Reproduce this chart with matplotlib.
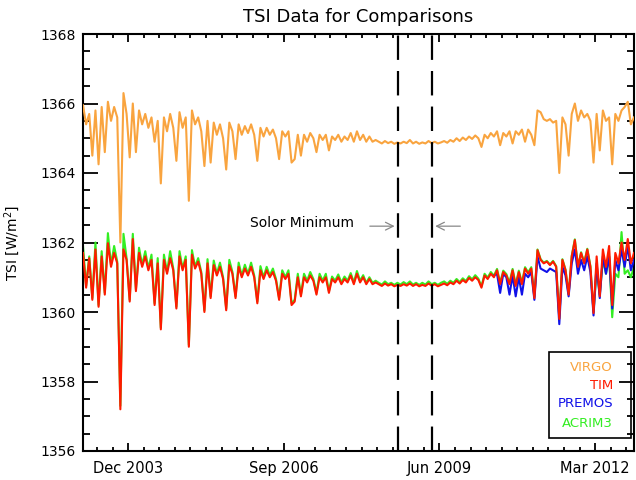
import numpy as np
import matplotlib
matplotlib.use("Agg")
import matplotlib.pyplot as plt
from matplotlib.patches import Rectangle
from matplotlib.ticker import MultipleLocator, FixedLocator

# ---- data (days relative to JD 2453000, sampled every 20 days) ----
days = np.arange(-290, 3251, 20)

virgo = [
 1365.95,1365.4,1365.7,1364.5,1365.8,1364.25,1365.9,1364.6,1366.05,1365.5,
 1365.9,1365.6,1362.0,1366.3,1365.7,1364.45,1366.0,1364.6,1365.8,1365.4,
 1365.7,1365.3,1365.6,1364.9,1365.5,1363.7,1365.6,1365.2,1365.7,1365.3,
 1364.35,1365.75,1365.3,1365.6,1363.2,1365.8,1365.4,1365.6,1365.2,1364.2,
 1365.5,1364.3,1365.45,1365.1,1365.4,1365.0,1364.1,1365.45,1365.2,1364.4,
 1365.4,1365.1,1365.35,1365.15,1365.4,1365.1,1364.35,1365.3,1365.05,1365.3,
 1365.1,1365.25,1365.0,1364.4,1365.2,1365.05,1365.2,1364.3,1364.4,1365.1,
 1364.5,1365.1,1364.9,1365.15,1365.0,1364.6,1365.1,1364.95,1365.1,1364.65,
 1365.05,1364.95,1365.1,1364.9,1365.05,1364.95,1365.15,1364.9,1365.2,1364.95,
 1365.1,1364.9,1365.05,1364.9,1364.95,
 1364.9,1364.85,1364.92,1364.86,1364.9,1364.84,1364.88,1364.85,1364.9,1364.86,
 1364.95,1364.85,1364.9,1364.84,1364.88,1364.85,1364.92,1364.86,1364.9,1364.85,
 1364.88,1364.92,1364.87,
 1364.95,1364.9,1365.0,1364.92,1365.02,1364.95,1365.05,1364.98,1365.08,1365.0,
 1364.75,1365.1,1365.0,1365.15,1365.05,1365.2,1364.8,1365.15,1365.05,1365.2,
 1364.85,1365.2,1365.1,1365.25,1364.9,1365.25,1365.1,1364.8,
 1365.8,1365.75,1365.55,1365.5,1365.55,1365.45,1365.5,1364.0,1365.6,1365.4,
 1364.5,1365.7,1366.0,1365.5,1365.8,1365.6,1365.7,1365.5,1364.3,1365.7,
 1364.65,1365.8,1365.5,1365.6,1364.25,1365.7,1365.5,1365.8,1365.9,1366.05,
 1365.4,1365.6]

tim = [
 1361.7,1360.7,1361.55,1360.35,1361.8,1360.15,1361.6,1360.5,1361.98,1361.3,
 1361.7,1361.4,1357.2,1361.8,1361.5,1360.3,1362.1,1360.6,1361.7,1361.3,
 1361.6,1361.2,1361.5,1360.2,1361.4,1359.5,1361.5,1361.1,1361.55,1361.2,
 1360.1,1361.6,1361.2,1361.5,1359.0,1361.65,1361.25,1361.45,1361.1,1360.0,
 1361.4,1360.4,1361.35,1361.05,1361.3,1360.95,1360.05,1361.35,1361.1,1360.4,
 1361.3,1361.0,1361.25,1361.05,1361.3,1361.0,1360.25,1361.2,1360.95,1361.2,
 1361.0,1361.15,1360.9,1360.35,1361.1,1360.95,1361.1,1360.2,1360.3,1361.0,
 1360.45,1361.0,1360.85,1361.05,1360.9,1360.5,1361.0,1360.85,1361.0,1360.55,
 1360.95,1360.85,1361.0,1360.8,1360.95,1360.85,1361.05,1360.8,1361.1,1360.85,
 1361.0,1360.8,1360.95,1360.8,1360.85,
 1360.8,1360.75,1360.82,1360.76,1360.8,1360.74,1360.78,1360.75,1360.8,1360.76,
 1360.82,1360.75,1360.8,1360.74,1360.78,1360.75,1360.82,1360.76,1360.8,1360.74,
 1360.78,1360.82,1360.77,
 1360.85,1360.8,1360.9,1360.82,1360.92,1360.85,1360.98,1360.9,1361.0,1360.92,
 1360.7,1361.05,1360.95,1361.1,1361.0,1361.2,1360.8,1361.15,1361.05,1360.8,
 1361.2,1360.75,1361.15,1360.8,1361.25,1361.1,1361.25,1360.4,
 1361.78,1361.5,1361.4,1361.45,1361.35,1361.45,1361.3,1359.8,1361.5,1361.2,
 1360.5,1361.6,1362.07,1361.3,1361.7,1361.4,1361.8,1361.3,1359.97,1361.6,
 1360.45,1361.8,1361.3,1361.9,1360.2,1361.7,1361.4,1362.0,1361.5,1362.1,
 1361.4,1361.7]

premos_days = days[132:]
premos = [
 1361.05,1361.1,1360.55,1361.1,1361.0,1360.5,1361.05,1360.45,1361.0,1360.5,
 1361.1,1361.0,1361.15,1360.35,
 1361.6,1361.25,1361.2,1361.15,1361.25,1361.2,1361.15,1359.65,1361.3,1361.05,
 1360.45,1361.4,1361.8,1361.1,1361.5,1361.2,1361.6,1361.15,1359.9,1361.4,
 1360.4,1361.6,1361.1,1361.6,1360.1,1361.5,1361.2,1361.8,1361.3,1361.9,
 1361.2,1361.5]

acrim3 = [
 1361.9,1360.75,1361.6,1360.4,1362.0,1360.2,1361.75,1360.55,1362.27,1361.35,
 1361.9,1361.45,1357.3,1362.25,1361.55,1360.35,1362.25,1360.65,1361.85,1361.35,
 1361.75,1361.25,1361.65,1360.25,1361.55,1359.55,1361.65,1361.15,1361.75,1361.25,
 1360.15,1361.75,1361.25,1361.6,1359.05,1361.78,1361.3,1361.55,1361.15,1360.05,
 1361.52,1360.45,1361.48,1361.1,1361.42,1361.0,1360.1,1361.5,1361.15,1360.45,
 1361.42,1361.05,1361.36,1361.1,1361.42,1361.05,1360.3,1361.32,1361.0,1361.3,
 1361.05,1361.25,1360.95,1360.4,1361.2,1361.0,1361.2,1360.25,1360.35,1361.1,
 1360.5,1361.1,1360.9,1361.15,1360.95,1360.55,1361.1,1360.9,1361.1,1360.6,
 1361.02,1360.9,1361.08,1360.85,1361.02,1360.9,1361.12,1360.85,1361.18,1360.9,
 1361.06,1360.84,1361.0,1360.84,1360.9,
 1360.84,1360.79,1360.88,1360.8,1360.84,1360.78,1360.84,1360.79,1360.86,1360.8,
 1360.88,1360.79,1360.84,1360.78,1360.84,1360.79,1360.88,1360.8,1360.84,1360.78,
 1360.84,1360.88,1360.81,
 1360.9,1360.84,1360.95,1360.86,1360.97,1360.89,1361.03,1360.94,1361.06,1360.96,
 1360.74,1361.1,1360.99,1361.15,1361.04,1361.24,1360.84,1361.19,1361.09,1360.84,
 1361.24,1360.79,1361.19,1360.84,1361.29,1361.14,1361.29,1360.44,
 1361.8,1361.52,1361.42,1361.47,1361.37,1361.47,1361.32,1359.82,1361.52,1361.22,
 1360.52,1361.62,1362.09,1361.32,1361.72,1361.42,1361.82,1361.32,1360.0,1361.2,
 1360.5,1361.5,1361.1,1361.6,1359.85,1361.1,1361.0,1362.3,1361.1,1361.2,
 1361.0,1361.3]

series_names = ["VIRGO", "TIM", "PREMOS", "ACRIM3"]
series_colors = ["#F9A43F", "#FF1A00", "#1010E8", "#33EE22"]

tick_days = [0, 1000, 2000, 3000]
tick_labels = ["Dec 2003", "Sep 2006", "Jun 2009", "Mar 2012"]
min_lines = [1735, 1950]
ann_text = "Solor Minimum"

# ---- figure ----
fig = plt.figure(figsize=(6.36, 4.80), dpi=100)
ax = fig.add_axes([83/636, 29/480, 551/636, 417/480])

ax.plot(days, acrim3, color=series_colors[3], lw=1.5, zorder=2)
ax.plot(premos_days, premos, color=series_colors[2], lw=1.5, zorder=3)
ax.plot(days, tim, color=series_colors[1], lw=1.5, zorder=4)
ax.plot(days, virgo, color=series_colors[0], lw=1.5, zorder=5)

for d in min_lines:
    ax.axvline(d, color="black", lw=1.6, linestyle=(0, (11, 5)), zorder=6)

ax.text(784, 1362.56, ann_text, fontsize=10, va="center", ha="left")
ax.annotate("", xy=(min_lines[0] - 5, 1362.47), xytext=(1535, 1362.47),
            arrowprops=dict(arrowstyle="->", color="#888888", lw=0.9,
                            mutation_scale=14))
ax.annotate("", xy=(min_lines[1] + 5, 1362.47), xytext=(2152, 1362.47),
            arrowprops=dict(arrowstyle="->", color="#888888", lw=0.9,
                            mutation_scale=14))

ax.set_xlim(-290, 3250)
ax.set_ylim(1356, 1368)
ax.xaxis.set_major_locator(FixedLocator(tick_days))
ax.set_xticklabels(tick_labels)
ax.xaxis.set_minor_locator(MultipleLocator(100))
ax.yaxis.set_major_locator(MultipleLocator(2))
ax.yaxis.set_minor_locator(MultipleLocator(0.5))

ax.tick_params(axis="both", which="both", direction="in", top=True, right=True,
               width=1.3, colors="black")
ax.tick_params(axis="x", which="major", length=6, labelsize=10.5, pad=7)
ax.tick_params(axis="x", which="minor", length=3)
ax.tick_params(axis="y", which="major", length=11, labelsize=10, pad=5)
ax.tick_params(axis="y", which="minor", length=5)
for s in ax.spines.values():
    s.set_linewidth(1.5)

ax.set_title("TSI Data for Comparisons", fontsize=13, pad=9)
ax.set_ylabel("TSI [W/m$^2$]", fontsize=10)
ax.yaxis.set_label_coords(-0.11, 0.5)

# legend box
ax.add_patch(Rectangle((0.846, 0.031), 0.149, 0.206, transform=ax.transAxes,
                       fill=False, edgecolor="black", lw=1.2, zorder=10))
leg_y = [0.201, 0.156, 0.113, 0.067]
for name, col, yy in zip(series_names, series_colors, leg_y):
    ax.text(0.962, yy, name, color=col, fontsize=9.5, ha="right", va="center",
            transform=ax.transAxes, zorder=11)

fig.savefig("out.png", dpi=100, facecolor="white")
